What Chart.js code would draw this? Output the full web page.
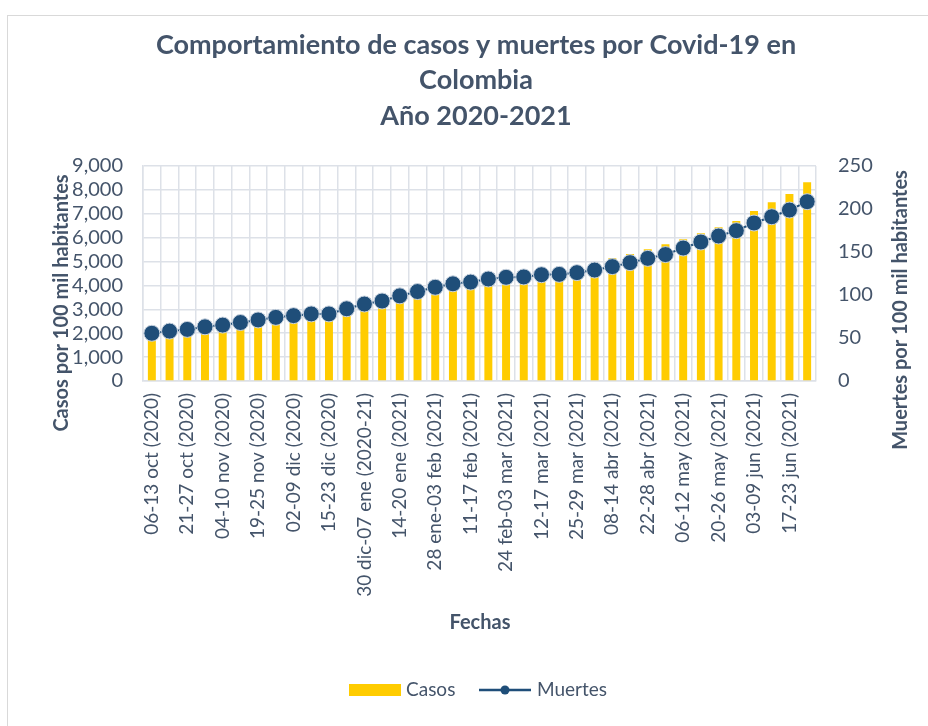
<!DOCTYPE html>
<html>
<head>
<meta charset="utf-8">
<script src="https://cdn.jsdelivr.net/npm/chart.js@4.4.0/dist/chart.umd.min.js"></script>
<style>
    html, body { margin: 0; padding: 0; background: #fff; }
    #marco { position: absolute; left: 7px; top: 15px; width: 1000px; height: 800px; border-left: 1px solid #d9d9d9; border-top: 1px solid #d9d9d9; }
    #lienzo { position: absolute; left: 0; top: 0; }
</style>
</head>
<body>
<div id="marco"></div>
<canvas id="lienzo" width="928" height="726"></canvas>
<script>
const semanas = [
    '06-13 oct (2020)', '14-20 oct (2020)', '21-27 oct (2020)', '28 oct-03 nov (2020)',
    '04-10 nov (2020)', '11-18 nov (2020)', '19-25 nov (2020)', '26 nov-01 dic (2020)',
    '02-09 dic (2020)', '10-14 dic (2020)', '15-23 dic (2020)', '24-29 dic (2020)',
    '30 dic-07 ene (2020-21)', '08-13 ene (2021)', '14-20 ene (2021)', '21-27 ene (2021)',
    '28 ene-03 feb (2021)', '04-10 feb (2021)', '11-17 feb (2021)', '18-23 feb (2021)',
    '24 feb-03 mar (2021)', '04-11 mar (2021)', '12-17 mar (2021)', '18-24 mar (2021)',
    '25-29 mar (2021)', '30 mar-07 abr (2021)', '08-14 abr (2021)', '15-21 abr (2021)',
    '22-28 abr (2021)', '29 abr-05 may (2021)', '06-12 may (2021)', '13-19 may (2021)',
    '20-26 may (2021)', '27 may-02 jun (2021)', '03-09 jun (2021)', '10-16 jun (2021)',
    '17-23 jun (2021)', '24-30 jun (2021)'
];

// casos por 100 mil habitantes (eje izquierdo)
const casos = [
    1810, 1890, 2020, 2140, 2250, 2380, 2490, 2600, 2740, 2830,
    3020, 3170, 3440, 3620, 3830, 4000, 4130, 4250, 4330, 4390,
    4450, 4490, 4530, 4580, 4640, 4810, 5136, 5316, 5512, 5721,
    5931, 6182, 6433, 6698, 7116, 7479, 7828, 8316
];

// muertes por 100 mil habitantes (eje derecho)
const muertes = [
    55.5, 58, 60, 63, 65, 68, 71, 74, 76, 78,
    78, 84, 89.5, 93, 99, 104, 109, 113, 115, 118.6,
    120.6, 121, 123.6, 124, 126, 129, 133, 137.6, 142.6, 147,
    154.6, 161.6, 168.6, 174.8, 183.7, 191, 198.8, 208.5
];

const ticksCasos = [0, 1000, 2000, 3000, 4000, 5000, 6000, 7000, 8000, 9000];
const ticksMuertes = [0, 50, 100, 150, 200, 250];

const tituloLineas = ['Comportamiento de casos y muertes por Covid-19 en', 'Colombia', 'Año 2020-2021'];

const colorTexto = '#44546a';
const colorCasos = '#ffcc00';
const colorMuertes = '#1f4e79';
const colorGrid = '#dde1e8';
const fuente = 'Lato, "Open Sans", sans-serif';

// textos propios: título, títulos de ejes y leyenda
const textosPlugin = {
    id: 'textos',
    afterDraw(chart) {
        const ctx = chart.ctx;
        ctx.save();
        ctx.fillStyle = colorTexto;
        ctx.textAlign = 'center';
        ctx.textBaseline = 'middle';
        ctx.font = 'bold 27px ' + fuente;
        const ys = [45, 80, 116];
        tituloLineas.forEach((t, i) => ctx.fillText(t, 476, ys[i]));

        // Eje X
        ctx.font = 'bold 20px ' + fuente;
        ctx.fillText('Fechas', 480, 623);

        // Eje izquierdo
        ctx.save();
        ctx.translate(62, 303);
        ctx.rotate(-Math.PI / 2);
        ctx.fillText('Casos por 100 mil habitantes', 0, 0);
        ctx.restore();

        // Eje derecho
        ctx.save();
        ctx.translate(901, 310);
        ctx.rotate(-Math.PI / 2);
        ctx.fillText('Muertes por 100 mil habitantes', 0, 0);
        ctx.restore();

        // Leyenda
        ctx.textAlign = 'left';
        ctx.font = '19px ' + fuente;
        ctx.fillStyle = colorCasos;
        ctx.fillRect(349, 684, 52, 12);
        ctx.fillStyle = colorTexto;
        ctx.fillText('Casos', 406, 690);
        ctx.strokeStyle = colorMuertes;
        ctx.lineWidth = 2.5;
        ctx.beginPath();
        ctx.moveTo(479, 690);
        ctx.lineTo(531, 690);
        ctx.stroke();
        ctx.fillStyle = colorMuertes;
        ctx.beginPath();
        ctx.arc(505, 690, 4.5, 0, Math.PI * 2);
        ctx.fill();
        ctx.fillStyle = colorTexto;
        ctx.fillText('Muertes', 537, 690);
        ctx.restore();
    }
};

new Chart(document.getElementById('lienzo').getContext('2d'), {
    type: 'bar',
    data: {
        labels: semanas,
        datasets: [{
            type: 'line',
            label: 'Muertes',
            data: muertes,
            yAxisID: 'y1',
            borderColor: colorMuertes,
            borderWidth: 2,
            pointRadius: 8,
            pointBackgroundColor: colorMuertes,
            pointBorderColor: '#c9d3df',
            pointBorderWidth: 1,
            tension: 0,
            order: 1
        }, {
            type: 'bar',
            label: 'Casos',
            data: casos,
            yAxisID: 'y',
            backgroundColor: colorCasos,
            barPercentage: 0.45,
            categoryPercentage: 1,
            order: 2
        }]
    },
    options: {
        responsive: false,
        animation: false,
        layout: { padding: { left: 0, right: 0, top: 166, bottom: 115 } },
        plugins: {
            legend: { display: false },
            title: { display: false },
            tooltip: { enabled: false }
        },
        scales: {
            x: {
                grid: { color: colorGrid, lineWidth: 1.5, drawTicks: false },
                border: { color: colorGrid, width: 1.5 },
                ticks: {
                    autoSkip: false,
                    minRotation: 90,
                    maxRotation: 90,
                    padding: 12,
                    color: colorTexto,
                    font: { family: fuente, size: 19 },
                    callback: function (v, i) { return i % 2 === 0 ? semanas[i] : ''; }
                },
                afterFit: function (s) { s.height = 230; }
            },
            y: {
                position: 'left',
                min: 0,
                max: 9000,
                afterBuildTicks: function (s) { s.ticks = ticksCasos.map(v => ({ value: v })); },
                grid: { color: colorGrid, lineWidth: 1.5, drawTicks: false },
                border: { color: colorGrid, width: 1.5 },
                ticks: {
                    autoSkip: false,
                    padding: 20,
                    color: colorTexto,
                    font: { family: fuente, size: 20 },
                    callback: v => v.toLocaleString('en-US')
                },
                afterFit: function (s) { s.width = 143; }
            },
            y1: {
                position: 'right',
                min: 0,
                max: 250,
                afterBuildTicks: function (s) { s.ticks = ticksMuertes.map(v => ({ value: v })); },
                grid: { display: false, drawTicks: false },
                border: { display: false },
                ticks: {
                    autoSkip: false,
                    padding: 22,
                    color: colorTexto,
                    font: { family: fuente, size: 20 }
                },
                afterFit: function (s) { s.width = 112; }
            }
        }
    },
    plugins: [textosPlugin]
});
</script>
</body>
</html>
